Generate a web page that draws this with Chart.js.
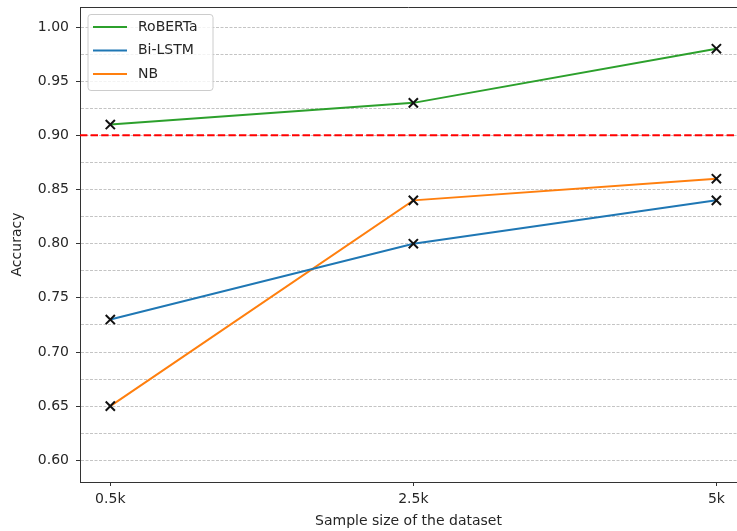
<!DOCTYPE html>
<html>
<head>
<meta charset="utf-8">
<script src="https://cdn.jsdelivr.net/npm/chart.js@4.4.0/dist/chart.umd.min.js"></script>
<style>
  html, body { margin: 0; padding: 0; background: #fff; overflow: hidden; }
  #wrap { width: 737px; height: 531px; }
</style>
</head>
<body>
<div id="wrap"><canvas id="c" width="737" height="531"></canvas></div>
<script>
const categories = ['0.5k', '2.5k', '5k'];
const robertaValues = [0.91, 0.93, 0.98];
const bilstmValues = [0.73, 0.80, 0.84];
const nbValues = [0.65, 0.84, 0.86];
const seriesNames = ['RoBERTa', 'Bi-LSTM', 'NB'];
const threshold = 0.90;
const yMajorTicks = [0.60, 0.65, 0.70, 0.75, 0.80, 0.85, 0.90, 0.95, 1.00];

const FONT = 'DejaVu Sans';
const TXT = '#262626';
const colors = ['#2ca02c', '#1f77b4', '#ff7f0e'];

function toPoints(vals) { return vals.map((v, i) => ({ x: i, y: v })); }

function makeDataset(label, vals, color) {
  return {
    label: label,
    data: toPoints(vals),
    borderColor: color,
    backgroundColor: color,
    borderWidth: 2,
    fill: false,
    tension: 0,
    pointStyle: 'crossRot',
    pointRadius: 6.5,
    pointBorderWidth: 2,
    pointBorderColor: '#111111',
    pointBackgroundColor: '#111111',
    pointHoverRadius: 6.5
  };
}

const isMajor = v => yMajorTicks.some(t => Math.abs(t - v) < 1e-6);

const thresholdPlugin = {
  id: 'thresholdLine',
  beforeDatasetsDraw(chart) {
    const { ctx, chartArea } = chart;
    const y = chart.scales.y.getPixelForValue(threshold);
    ctx.save();
    ctx.strokeStyle = '#ff0000';
    ctx.lineWidth = 2;
    ctx.setLineDash([7.4, 3.2]);
    ctx.beginPath();
    ctx.moveTo(chartArea.left, y);
    ctx.lineTo(chartArea.right, y);
    ctx.stroke();
    ctx.restore();
  }
};

const framePlugin = {
  id: 'frame',
  afterDraw(chart) {
    const { ctx, chartArea } = chart;
    ctx.save();
    ctx.strokeStyle = '#333333';
    ctx.lineWidth = 1;
    ctx.beginPath();
    ctx.moveTo(chartArea.left, chartArea.top + 0.5);
    ctx.lineTo(chartArea.right, chartArea.top + 0.5);
    ctx.stroke();
    ctx.restore();

    // legend (upper left, inside the axes)
    const x0 = chartArea.left + 8, y0 = chartArea.top + 7.5, w = 125, h = 76, r = 3;
    ctx.save();
    ctx.beginPath();
    ctx.moveTo(x0 + r, y0);
    ctx.lineTo(x0 + w - r, y0);
    ctx.quadraticCurveTo(x0 + w, y0, x0 + w, y0 + r);
    ctx.lineTo(x0 + w, y0 + h - r);
    ctx.quadraticCurveTo(x0 + w, y0 + h, x0 + w - r, y0 + h);
    ctx.lineTo(x0 + r, y0 + h);
    ctx.quadraticCurveTo(x0, y0 + h, x0, y0 + h - r);
    ctx.lineTo(x0, y0 + r);
    ctx.quadraticCurveTo(x0, y0, x0 + r, y0);
    ctx.closePath();
    ctx.fillStyle = 'rgba(255,255,255,0.8)';
    ctx.fill();
    ctx.strokeStyle = '#cccccc';
    ctx.lineWidth = 1;
    ctx.stroke();
    chart.data.datasets.forEach((ds, i) => {
      const ly = y0 + 12.5 + i * 23.5;
      ctx.strokeStyle = ds.borderColor;
      ctx.lineWidth = 2;
      ctx.beginPath();
      ctx.moveTo(x0 + 5, ly);
      ctx.lineTo(x0 + 39, ly);
      ctx.stroke();
      ctx.fillStyle = TXT;
      ctx.font = '14px "' + FONT + '"';
      ctx.textBaseline = 'middle';
      ctx.textAlign = 'left';
      ctx.fillText(ds.label, x0 + 50, ly);
    });
    ctx.restore();
  }
};

new Chart(document.getElementById('c'), {
  type: 'line',
  data: {
    datasets: [
      makeDataset(seriesNames[0], robertaValues, colors[0]),
      makeDataset(seriesNames[1], bilstmValues, colors[1]),
      makeDataset(seriesNames[2], nbValues, colors[2])
    ]
  },
  options: {
    responsive: false,
    animation: false,
    devicePixelRatio: 1,
    layout: { autoPadding: false, padding: { top: 7, right: 0, left: 0, bottom: 0 } },
    plugins: { legend: { display: false }, tooltip: { enabled: false } },
    scales: {
      x: {
        type: 'linear',
        min: -0.1,
        max: 2.068,
        afterBuildTicks: s => { s.ticks = categories.map((c, i) => ({ value: i })); },
        afterFit: s => { s.height = 49; s.paddingLeft = 0; s.paddingRight = 0; },
        ticks: {
          callback: v => categories[v] !== undefined ? categories[v] : '',
          color: TXT,
          font: { family: FONT, size: 14 },
          padding: 4.5,
          maxRotation: 0,
          autoSkip: false
        },
        grid: { drawOnChartArea: false, drawTicks: true, tickLength: 4, tickColor: '#333333', tickWidth: 1 },
        border: { display: true, color: '#333333', width: 1 },
        title: {
          display: true,
          text: 'Sample size of the dataset',
          color: TXT,
          font: { family: FONT, size: 14 },
          padding: { top: 0, bottom: 1 }
        }
      },
      y: {
        type: 'linear',
        min: 0.58,
        max: 1.0185,
        afterFit: s => { s.width = 80; s.paddingTop = 0; s.paddingBottom = 0; },
        ticks: {
          stepSize: 0.025,
          includeBounds: false,
          autoSkip: false,
          callback: v => isMajor(v) ? v.toFixed(2) : '',
          color: TXT,
          font: { family: FONT, size: 14 },
          padding: 7
        },
        grid: {
          display: true,
          drawOnChartArea: true,
          color: '#c4c4c4',
          lineWidth: 1,
          tickLength: 4,
          tickColor: ctx => isMajor(ctx.tick.value) ? '#333333' : 'rgba(0,0,0,0)',
          tickWidth: 1
        },
        border: { display: true, color: '#333333', width: 1, dash: [3, 1.5] },
        title: {
          display: true,
          text: 'Accuracy',
          color: TXT,
          font: { family: FONT, size: 14 },
          padding: { top: 8.5, bottom: 0 }
        }
      }
    }
  },
  plugins: [thresholdPlugin, framePlugin]
});
</script>
</body>
</html>
